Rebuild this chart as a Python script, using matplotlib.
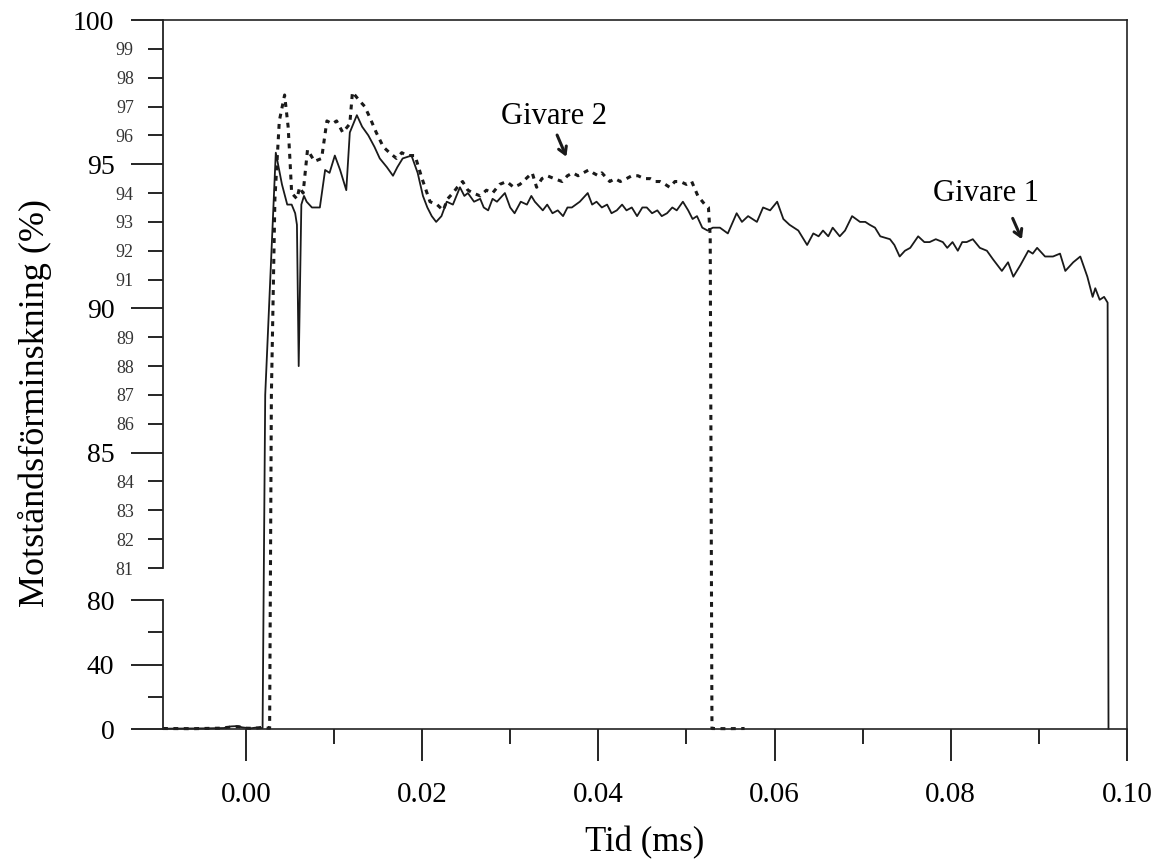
import numpy as np
import matplotlib
matplotlib.use("Agg")
import matplotlib.pyplot as plt

plt.rcParams['font.family'] = ['Liberation Serif', 'DejaVu Serif']

# Givare 1 (heldragen linje)
t1 = [-0.0094, -0.0070, -0.0045, -0.0025, -0.0017, -0.0010, -0.0004, 0.0005, 0.0012, 0.0016,
      0.0019, 0.0022, 0.0034, 0.0041, 0.0047, 0.0052, 0.0056, 0.0058, 0.0060, 0.0063,
      0.0066, 0.0069, 0.0075, 0.0084, 0.0090, 0.0095, 0.0101, 0.0107, 0.0114, 0.0118,
      0.0126, 0.0132, 0.0139, 0.0146, 0.0152, 0.0160, 0.0167, 0.0172, 0.0178, 0.0188,
      0.0195, 0.0201, 0.0206, 0.0211, 0.0216, 0.0222, 0.0228, 0.0235, 0.0243, 0.0248,
      0.0252, 0.0259, 0.0266, 0.0270, 0.0275, 0.0280, 0.0285, 0.0294, 0.0300, 0.0305,
      0.0312, 0.0319, 0.0324, 0.0328, 0.0337, 0.0342, 0.0348, 0.0354, 0.0360, 0.0365,
      0.0370, 0.0379, 0.0388, 0.0393, 0.0398, 0.0404, 0.0410, 0.0415, 0.0421, 0.0427,
      0.0432, 0.0438, 0.0444, 0.0450, 0.0455, 0.0461, 0.0467, 0.0472, 0.0478, 0.0484,
      0.0489, 0.0496, 0.0502, 0.0507, 0.0512, 0.0518, 0.0524, 0.0530, 0.0538, 0.0547,
      0.0557, 0.0563, 0.0570, 0.0580, 0.0587, 0.0595, 0.0603, 0.0610, 0.0617, 0.0627,
      0.0637, 0.0644, 0.0650, 0.0655, 0.0661, 0.0666, 0.0674, 0.0680, 0.0688, 0.0697,
      0.0703, 0.0708, 0.0714, 0.0720, 0.0731, 0.0736, 0.0742, 0.0748, 0.0754, 0.0763,
      0.0770, 0.0776, 0.0783, 0.0791, 0.0796, 0.0802, 0.0808, 0.0813, 0.0818, 0.0825,
      0.0833, 0.0841, 0.0848, 0.0853, 0.0858, 0.0865, 0.0871, 0.0879, 0.0888, 0.0893,
      0.0898, 0.0907, 0.0916, 0.0924, 0.0930, 0.0939, 0.0947, 0.0955, 0.0961, 0.0964,
      0.0969, 0.0974, 0.0978, 0.0979]
r1 = [0.2, 0.3, 0.4, 0.6, 1.6, 1.8, 1.0, 0.4, 0.9, 0.5,
      0.6, 87.0, 95.4, 94.3, 93.6, 93.6, 93.3, 92.9, 88.0, 93.6,
      93.9, 93.7, 93.5, 93.5, 94.8, 94.7, 95.3, 94.8, 94.1, 96.1,
      96.7, 96.3, 96.0, 95.6, 95.2, 94.9, 94.6, 94.9, 95.2, 95.3,
      94.7, 93.9, 93.5, 93.2, 93.0, 93.2, 93.7, 93.6, 94.2, 93.9,
      94.0, 93.7, 93.8, 93.5, 93.4, 93.8, 93.7, 94.0, 93.5, 93.3,
      93.7, 93.6, 93.9, 93.7, 93.4, 93.6, 93.3, 93.4, 93.2, 93.5,
      93.5, 93.7, 94.0, 93.6, 93.7, 93.5, 93.6, 93.3, 93.4, 93.6,
      93.4, 93.5, 93.2, 93.5, 93.5, 93.3, 93.4, 93.2, 93.3, 93.5,
      93.4, 93.7, 93.4, 93.1, 93.2, 92.8, 92.7, 92.8, 92.8, 92.6,
      93.3, 93.0, 93.2, 93.0, 93.5, 93.4, 93.7, 93.1, 92.9, 92.7,
      92.2, 92.6, 92.5, 92.7, 92.5, 92.8, 92.5, 92.7, 93.2, 93.0,
      93.0, 92.9, 92.8, 92.5, 92.4, 92.2, 91.8, 92.0, 92.1, 92.5,
      92.3, 92.3, 92.4, 92.3, 92.1, 92.3, 92.0, 92.3, 92.3, 92.4,
      92.1, 92.0, 91.7, 91.5, 91.3, 91.6, 91.1, 91.5, 92.0, 91.9,
      92.1, 91.8, 91.8, 91.9, 91.3, 91.6, 91.8, 91.1, 90.4, 90.7,
      90.3, 90.4, 90.2, 0.2]

# Givare 2 (streckad linje)
t2 = [-0.0094, -0.0060, -0.0030, -0.0017, -0.0008, 0.0000, 0.0010, 0.0018, 0.0024, 0.0027,
      0.0029, 0.0033, 0.0038, 0.0044, 0.0048, 0.0050, 0.0052, 0.0058, 0.0061, 0.0065,
      0.0070, 0.0074, 0.0078, 0.0086, 0.0092, 0.0098, 0.0103, 0.0110, 0.0118, 0.0121,
      0.0129, 0.0135, 0.0141, 0.0148, 0.0156, 0.0163, 0.0171, 0.0177, 0.0183, 0.0192,
      0.0200, 0.0209, 0.0217, 0.0224, 0.0229, 0.0235, 0.0240, 0.0246, 0.0252, 0.0258,
      0.0266, 0.0273, 0.0280, 0.0288, 0.0296, 0.0304, 0.0311, 0.0318, 0.0325, 0.0330,
      0.0336, 0.0342, 0.0350, 0.0359, 0.0365, 0.0371, 0.0377, 0.0383, 0.0389, 0.0394,
      0.0400, 0.0404, 0.0413, 0.0419, 0.0425, 0.0432, 0.0438, 0.0445, 0.0452, 0.0459,
      0.0465, 0.0470, 0.0476, 0.0481, 0.0487, 0.0493, 0.0500, 0.0506, 0.0513, 0.0521,
      0.0525, 0.0527, 0.0529, 0.0545, 0.0566]
r2 = [0.3, 0.2, 0.5, 1.2, 1.4, 0.5, 0.4, 1.0, 0.6, 0.5,
      87.0, 93.8, 96.5, 97.4, 96.3, 95.2, 94.0, 93.8, 94.2, 94.0,
      95.5, 95.3, 95.1, 95.2, 96.5, 96.4, 96.5, 96.1, 96.4, 97.5,
      97.2, 97.0, 96.6, 96.1, 95.6, 95.4, 95.2, 95.4, 95.3, 95.3,
      94.5, 93.7, 93.6, 93.4, 93.8, 94.0, 94.2, 94.4, 94.1, 94.0,
      93.9, 94.1, 94.0, 94.3, 94.4, 94.2, 94.3, 94.5, 94.7, 94.2,
      94.5, 94.6, 94.5, 94.4, 94.6, 94.7, 94.6, 94.7, 94.8, 94.7,
      94.6, 94.7, 94.4, 94.5, 94.4, 94.5, 94.6, 94.6, 94.5, 94.5,
      94.4, 94.4, 94.3, 94.2, 94.4, 94.4, 94.3, 94.4, 93.9, 93.6,
      93.5, 92.5, 0.3, 0.2, 0.3]

xmajor = [0.00, 0.02, 0.04, 0.06, 0.08, 0.10]
xminor = [0.01, 0.03, 0.05, 0.07, 0.09]
ymajor = [0, 40, 80, 85, 90, 95, 100]
yminor = [20, 60, 81, 82, 83, 84, 86, 87, 88, 89, 91, 92, 93, 94, 96, 97, 98, 99]

# bruten y-axel: 0-80 komprimerad, 81-100 utdragen
brk_val = [-100, 0, 80, 81, 100, 200]
brk_pos = [-161.25, 0, 129, 161, 709, 3593]


def fwd(y):
    return np.interp(y, brk_val, brk_pos)


def inv(p):
    return np.interp(p, brk_pos, brk_val)


fig = plt.figure(figsize=(11.61, 8.63), dpi=100)
ax = fig.add_axes([163 / 1161, 1 - 729 / 863, (1127 - 163) / 1161, (729 - 20) / 863])
ax.set_yscale('function', functions=(fwd, inv))
xl = -0.0094
ax.set_xlim(xl, 0.10)
ax.set_ylim(0, 100)

ax.plot(t1, r1, color='#1a1a1a', lw=1.3, clip_on=False)
ax.plot(t2, r2, color='#1a1a1a', lw=2.2, linestyle=(0, (1.6, 1.8)), clip_on=False)

# vänster axel i två delar
ax.spines['left'].set_visible(False)
ax.plot([xl, xl], [0, 80], color='#222222', lw=1.3, clip_on=False)
ax.plot([xl, xl], [81, 100], color='#222222', lw=1.3, clip_on=False)
for s in ['top', 'right', 'bottom']:
    ax.spines[s].set_linewidth(1.2)
    ax.spines[s].set_color('#222222')

ax.set_xticks(xmajor)
ax.set_xticklabels(['%.2f' % v for v in xmajor])
ax.set_xticks(xminor, minor=True)
ax.set_yticks(ymajor)
ax.set_yticklabels([str(v) for v in ymajor])
ax.set_yticks(yminor, minor=True)
ax.set_yticklabels(['' if v in (20, 60) else str(v) for v in yminor], minor=True)

ax.tick_params(axis='x', which='major', direction='out', length=23, width=1.2, pad=15, labelsize=21)
ax.tick_params(axis='x', which='minor', direction='out', length=11, width=1.2)
ax.tick_params(axis='y', which='major', direction='out', length=23, width=1.2, pad=12, labelsize=20)
ax.tick_params(axis='y', which='minor', direction='out', length=11, width=1.2, pad=10, labelsize=13,
               labelcolor='#333333')

ax.set_xlabel('Tid (ms)', fontsize=25)
ax.xaxis.set_label_coords(0.5, -0.137)
ax.set_ylabel('Motståndsförminskning (%)', fontsize=26)
ax.yaxis.set_label_coords(-0.115, 0.46)

ax.text(0.0350, 96.38, 'Givare 2', fontsize=22, ha='center', va='baseline')
ax.annotate('', xy=(0.0365, 95.17), xytext=(0.0352, 96.1),
            arrowprops=dict(arrowstyle='->,head_length=0.5,head_width=0.3', lw=2.2, color='#1a1a1a'))
ax.text(0.0840, 93.72, 'Givare 1', fontsize=22, ha='center', va='baseline')
ax.annotate('', xy=(0.0882, 92.31), xytext=(0.0869, 93.21),
            arrowprops=dict(arrowstyle='->,head_length=0.5,head_width=0.3', lw=2.2, color='#1a1a1a'))

fig.savefig('out.png', dpi=100)
